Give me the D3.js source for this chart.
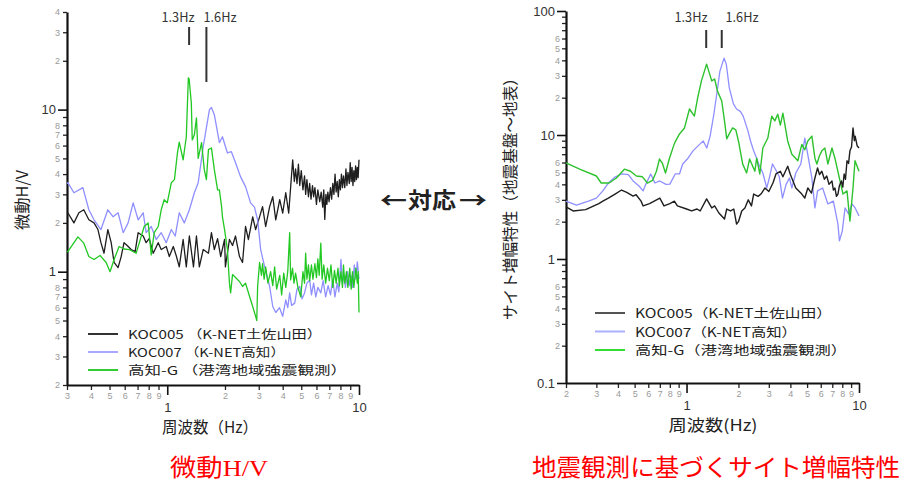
<!DOCTYPE html>
<html>
<head>
<meta charset="utf-8">
<script src="https://cdn.jsdelivr.net/npm/d3@7"></script>
<style>body{margin:0;background:#fff}</style>
</head>
<body>
<script>
// ---- data: microtremor H/V (left) [frequency Hz, ratio]
const hvKOC005 = [[0.3,2.3],[0.303,2.31],[0.326,2.0],[0.346,2.31],[0.367,2.41],[0.39,2.09],[0.415,2.0],[0.435,1.82],[0.451,1.51],[0.468,1.3],[0.49,1.82],[0.51,1.51],[0.528,1.14],[0.554,1.06],[0.575,1.24],[0.595,1.51],[0.618,1.45],[0.648,1.37],[0.68,1.33],[0.705,1.74],[0.749,1.66],[0.776,1.51],[0.805,1.6],[0.845,1.3],[0.897,1.51],[0.93,1.37],[0.988,1.43],[1.025,1.24],[1.075,1.43],[1.115,1.25],[1.155,1.07],[1.21,1.58],[1.257,1.07],[1.304,1.66],[1.37,1.07],[1.42,1.66],[1.47,1.07],[1.54,1.37],[1.64,1.3],[1.7,1.74],[1.76,1.37],[1.83,1.6],[1.9,1.24],[1.99,1.58],[2.01,1.07],[2.11,1.58],[2.19,1.45],[2.27,1.66],[2.38,1.24],[2.47,1.14],[2.56,1.9],[2.65,1.58],[2.79,2.18],[2.89,1.82],[3.03,2.18],[3.14,2.52],[3.26,1.9],[3.42,2.52],[3.55,2.9],[3.68,2.09],[3.86,2.78],[4.0,2.3],[4.15,3.07],[4.3,2.3],[4.51,4.9],[4.6,3.6],[4.67,4.3],[4.75,3.5],[4.83,4.6],[4.91,3.4],[5.0,4.2],[5.1,3.2],[5.2,3.9],[5.27,3.0],[5.35,3.7],[5.45,2.9],[5.53,3.5],[5.62,2.8],[5.72,3.4],[5.8,2.9],[5.89,3.3],[6.0,2.6],[6.1,3.2],[6.24,2.7],[6.35,3.1],[6.47,2.5],[6.55,3.2],[6.63,2.1],[6.72,3.0],[6.8,2.6],[6.88,3.1],[6.98,2.7],[7.1,3.3],[7.2,2.8],[7.3,3.5],[7.4,3.0],[7.5,4.0],[7.6,3.1],[7.7,3.6],[7.8,2.9],[7.9,3.7],[8.0,3.2],[8.1,4.0],[8.2,3.3],[8.3,3.9],[8.43,3.3],[8.55,4.3],[8.65,3.4],[8.76,4.1],[8.9,3.5],[9.0,4.7],[9.1,3.6],[9.2,4.4],[9.3,3.4],[9.4,4.2],[9.5,3.6],[9.6,4.5],[9.7,3.7],[9.8,4.4],[9.9,3.8],[10,4.9]];
const hvKOC007 = [[0.3,3.5],[0.303,3.54],[0.326,3.07],[0.363,3.3],[0.39,2.41],[0.415,2.09],[0.451,1.82],[0.49,2.41],[0.522,2.18],[0.554,2.31],[0.589,1.74],[0.625,2.0],[0.664,2.66],[0.705,2.09],[0.749,2.31],[0.776,1.74],[0.825,1.9],[0.876,1.58],[0.93,1.74],[0.988,1.51],[1.05,1.82],[1.1,1.66],[1.155,2.31],[1.227,2.0],[1.304,2.41],[1.385,3.07],[1.45,3.54],[1.54,5.9],[1.6,7.74],[1.66,10.0],[1.7,10.3],[1.76,9.3],[1.87,6.25],[1.94,6.8],[2.06,5.4],[2.16,5.5],[2.27,4.7],[2.41,3.86],[2.56,3.35],[2.72,2.66],[2.85,2.5],[2.96,2.09],[3.07,1.37],[3.22,1.07],[3.42,0.81],[3.55,0.61],[3.68,0.56],[3.85,0.6],[4.0,0.53],[4.1,0.62],[4.15,0.67],[4.25,0.6],[4.35,0.74],[4.45,0.62],[4.62,0.64],[4.75,0.78],[4.91,0.81],[5.05,0.68],[5.2,0.74],[5.35,0.85],[5.53,0.89],[5.65,0.72],[5.8,0.85],[5.95,0.7],[6.1,0.8],[6.32,0.74],[6.5,0.88],[6.7,0.7],[6.9,0.82],[7.1,0.72],[7.3,0.9],[7.49,0.7],[7.7,0.85],[7.85,0.75],[8.05,1.19],[8.2,0.85],[8.35,0.95],[8.5,0.8],[8.7,1.0],[8.9,0.82],[9.08,0.95],[9.25,0.8],[9.45,1.1],[9.63,0.9],[9.8,1.15],[10,0.9]];
const hvKochiG = [[0.3,1.33],[0.303,1.33],[0.342,1.64],[0.367,1.5],[0.39,1.24],[0.415,1.19],[0.446,1.26],[0.48,1.14],[0.503,1.0],[0.528,1.19],[0.561,1.43],[0.595,1.38],[0.632,1.37],[0.688,1.3],[0.714,1.5],[0.758,1.9],[0.795,2.0],[0.825,1.27],[0.855,1.74],[0.897,1.9],[0.93,2.41],[0.964,2.78],[1.0,2.66],[1.05,3.54],[1.09,3.7],[1.13,5.4],[1.155,6.3],[1.21,4.9],[1.257,6.8],[1.288,15.7],[1.3,15.5],[1.335,11.0],[1.35,6.5],[1.385,7.0],[1.42,8.9],[1.45,5.0],[1.51,6.25],[1.56,4.26],[1.6,3.7],[1.64,5.66],[1.7,5.8],[1.76,4.26],[1.83,3.2],[1.87,3.2],[1.92,2.52],[1.94,2.18],[1.99,1.82],[2.06,1.37],[2.11,0.85],[2.14,0.74],[2.19,0.96],[2.27,0.92],[2.38,0.87],[2.47,0.81],[2.56,0.85],[2.69,0.7],[2.79,0.61],[2.89,0.53],[2.93,0.5],[2.96,0.81],[3.03,1.14],[3.1,0.95],[3.14,1.12],[3.2,0.9],[3.26,1.07],[3.35,0.85],[3.46,1.0],[3.55,0.82],[3.63,1.07],[3.72,0.78],[3.86,0.95],[3.95,0.72],[4.05,0.98],[4.15,0.8],[4.25,1.0],[4.35,1.74],[4.4,0.89],[4.5,1.05],[4.58,0.85],[4.67,0.98],[4.8,0.8],[4.97,0.7],[5.1,1.0],[5.2,0.85],[5.27,1.3],[5.35,0.9],[5.45,1.1],[5.53,0.88],[5.65,1.1],[5.75,0.9],[5.89,1.12],[6.0,0.92],[6.1,1.2],[6.2,0.95],[6.32,1.5],[6.42,0.9],[6.55,1.1],[6.7,0.85],[6.85,1.05],[7.0,0.88],[7.14,1.1],[7.3,0.8],[7.45,1.02],[7.6,0.85],[7.77,1.05],[7.9,0.82],[8.05,1.0],[8.2,0.8],[8.3,1.1],[8.43,0.85],[8.6,1.0],[8.75,0.8],[8.95,1.05],[9.1,0.78],[9.25,1.0],[9.4,0.8],[9.63,1.05],[9.8,0.85],[9.9,1.0],[10,0.56]];

// ---- data: site amplification from earthquake records (right)
const ampKOC005 = [[0.2,2.63],[0.22,2.44],[0.26,2.5],[0.29,2.68],[0.31,2.8],[0.327,2.93],[0.352,3.1],[0.385,3.34],[0.42,3.6],[0.45,3.45],[0.49,3.22],[0.51,3.3],[0.545,2.93],[0.56,2.68],[0.61,2.8],[0.7,3.1],[0.74,2.68],[0.8,2.8],[0.85,2.93],[0.885,2.68],[1.0,2.53],[1.07,2.44],[1.15,2.53],[1.2,2.44],[1.307,3.05],[1.4,2.58],[1.455,2.68],[1.54,2.35],[1.66,2.1],[1.71,2.53],[1.8,2.44],[1.88,2.53],[1.95,1.91],[2.0,2.0],[2.09,2.44],[2.18,2.58],[2.28,3.0],[2.38,2.68],[2.45,3.34],[2.6,3.2],[2.7,3.34],[2.85,3.74],[3.0,3.5],[3.17,4.1],[3.3,4.85],[3.5,5.1],[3.62,4.6],[3.86,5.6],[4.0,4.8],[4.3,3.74],[4.66,3.34],[4.85,3.1],[5.05,3.74],[5.3,3.4],[5.55,4.5],[5.75,5.42],[5.9,4.8],[6.09,5.1],[6.3,4.4],[6.5,4.67],[6.7,4.0],[6.97,4.26],[7.1,3.6],[7.25,3.74],[7.4,3.2],[7.55,3.34],[7.7,3.9],[7.9,4.26],[8.05,3.8],[8.2,4.85],[8.35,4.4],[8.52,6.2],[8.7,5.9],[8.86,7.45],[9.05,8.0],[9.23,11.4],[9.4,9.0],[9.5,9.8],[9.75,8.2],[10,7.85]];
const ampKOC007 = [[0.2,2.93],[0.23,2.72],[0.27,2.93],[0.3,3.1],[0.327,3.54],[0.352,4.1],[0.385,4.58],[0.42,4.85],[0.46,4.8],[0.49,4.26],[0.53,3.88],[0.56,3.54],[0.58,4.0],[0.62,4.85],[0.655,4.1],[0.7,4.26],[0.76,4.0],[0.8,4.02],[0.86,4.85],[0.91,4.85],[0.95,5.84],[1.02,6.5],[1.09,7.45],[1.19,8.4],[1.25,8.95],[1.31,7.85],[1.37,9.8],[1.44,14.7],[1.5,21.8],[1.56,32.6],[1.65,41.7],[1.7,37.3],[1.77,24.0],[1.87,17.8],[1.95,16.2],[2.05,15.5],[2.13,14.2],[2.27,10.8],[2.35,8.95],[2.45,7.45],[2.55,6.5],[2.62,5.84],[2.77,4.94],[2.92,3.74],[3.03,4.6],[3.15,5.84],[3.3,5.2],[3.45,4.6],[3.6,3.1],[3.78,4.0],[3.95,4.5],[4.08,3.74],[4.3,4.94],[4.6,5.84],[4.85,9.45],[5.05,6.9],[5.33,4.5],[5.55,2.58],[5.75,3.54],[6.15,3.74],[6.6,2.78],[7.1,2.93],[7.55,1.91],[7.7,1.4],[8.0,1.68],[8.3,2.58],[8.7,2.31],[9.1,2.78],[9.5,2.58],[10,2.22]];
const ampKochiG = [[0.2,5.95],[0.24,5.3],[0.3,4.67],[0.32,4.1],[0.356,4.1],[0.392,4.5],[0.436,5.3],[0.473,5.1],[0.512,4.67],[0.555,4.6],[0.593,4.1],[0.635,4.3],[0.669,5.1],[0.697,6.4],[0.725,5.9],[0.755,4.94],[0.796,6.5],[0.852,8.6],[0.91,10.2],[0.973,11.4],[1.04,16.2],[1.11,14.2],[1.16,19.9],[1.22,27.3],[1.307,37.3],[1.4,27.3],[1.455,28.3],[1.51,22.7],[1.6,18.8],[1.66,13.0],[1.71,9.3],[1.78,10.4],[1.85,11.4],[1.93,11.0],[2.0,8.95],[2.115,5.85],[2.23,4.94],[2.32,6.4],[2.49,5.1],[2.55,6.5],[2.66,4.85],[2.77,7.85],[2.96,9.45],[3.12,14.2],[3.25,13.0],[3.38,14.7],[3.5,12.0],[3.62,15.0],[3.86,8.95],[4.08,7.0],[4.42,6.2],[4.66,8.4],[4.85,7.6],[5.05,8.95],[5.33,9.8],[5.55,6.5],[5.7,5.84],[5.9,6.8],[6.09,7.45],[6.34,7.85],[6.6,5.84],[6.97,7.85],[7.25,6.5],[7.76,4.26],[8.08,3.34],[8.52,3.54],[8.86,2.02],[9.23,3.74],[9.48,6.2],[10,5.1]];

// ---- ticks
const hvXMajor = [1, 10];
const hvXMinor = [0.3,0.4,0.5,0.6,0.7,0.8,0.9,2,3,4,5,6,7,8,9];
const hvYMajor = [1, 10];
const hvYMinor = [0.2,0.3,0.4,0.5,0.6,0.7,0.8,0.9,2,3,4,5,6,7,8,9,20,30,40];
const ampXMajor = [1, 10];
const ampXMinor = [0.2,0.3,0.4,0.5,0.6,0.7,0.8,0.9,2,3,4,5,6,7,8,9];
const ampYMajor = [0.1, 1, 10, 100];
const ampYMinor = [0.2,0.3,0.4,0.5,0.6,0.7,0.8,0.9,2,3,4,5,6,7,8,9,20,30,40,50,60,70,80,90];
const peaks = [1.3, 1.6];

const hvLegend = ["KOC005 （K-NET土佐山田）", "KOC007 （K-NET高知）", "高知-G （港湾地域強震観測）"];
const ampLegend = ["KOC005（K-NET土佐山田）", "KOC007（K-NET高知）", "高知-G（港湾地域強震観測）"];

const width = 903, height = 486;
const jp = "'Noto Sans CJK JP', sans-serif";

const svg = d3.select("body").append("svg")
    .attr("width", width)
    .attr("height", height)
    .style("font-family", "'Liberation Sans', Arial, sans-serif");

const digit = d => String(Math.round(d / Math.pow(10, Math.floor(Math.log10(d) + 1e-9))));

function panel(o) {
  const x = d3.scaleLog().domain(o.xDomain).range(o.xRange);
  const y = d3.scaleLog().domain(o.yDomain).range(o.yRange);
  const g = svg.append("g");

  // minor ticks
  const ym = g.append("g").attr("transform", `translate(${o.xRange[0]},0)`)
      .call(d3.axisLeft(y).tickValues(o.yMinor).tickSize(4).tickPadding(o.yMinorPad)
        .tickFormat(d => o.skipY.includes(+digit(d)) ? "" : digit(d)));
  const xm = g.append("g").attr("transform", `translate(0,${o.yRange[0]})`)
      .call(d3.axisBottom(x).tickValues(o.xMinor).tickSize(5).tickPadding(3).tickFormat(digit));
  [ym, xm].forEach(a => {
    a.select(".domain").remove();
    a.selectAll("line").attr("stroke", "#222").attr("stroke-width", 1.3);
    a.selectAll("text").attr("fill", "#9a9a9a").style("font-size", "9px");
  });

  // major ticks + axis lines
  const yM = g.append("g").attr("transform", `translate(${o.xRange[0]},0)`)
      .call(d3.axisLeft(y).tickValues(o.yMajor).tickSize(9).tickSizeOuter(0).tickPadding(2)
        .tickFormat(d => String(d)));
  const xM = g.append("g").attr("transform", `translate(0,${o.yRange[0]})`)
      .call(d3.axisBottom(x).tickValues(o.xMajor).tickSize(10).tickSizeOuter(0).tickPadding(8)
        .tickFormat(d => String(d)));
  [yM, xM].forEach(a => {
    a.select(".domain").attr("stroke", "#111").attr("stroke-width", 2.2);
    a.selectAll("line").attr("stroke", "#111").attr("stroke-width", 1.6);
    a.selectAll("text").attr("fill", "#333").style("font-size", "13px");
  });

  // series
  const line = d3.line().x(d => x(d[0])).y(d => y(d[1]));
  o.series.forEach(s => {
    g.append("path").datum(s.data)
      .attr("fill", "none")
      .attr("stroke", s.color)
      .attr("stroke-width", s.w)
      .attr("stroke-linejoin", "round")
      .attr("d", line);
  });

  // peak markers
  peaks.forEach((p, i) => {
    g.append("line")
      .attr("x1", x(p)).attr("x2", x(p))
      .attr("y1", o.markTop).attr("y2", o.markBottom[i])
      .attr("stroke", "#333").attr("stroke-width", 2);
    g.append("text")
      .attr("x", o.markLabelX[i]).attr("y", 22)
      .attr("text-anchor", "middle")
      .attr("textLength", 33).attr("lengthAdjust", "spacingAndGlyphs")
      .style("font-size", "13px").attr("fill", "#333")
      .style("font-family", jp)
      .text(p.toFixed(1) + "Hz");
  });

  // legend
  o.legend.forEach((t, i) => {
    const ly = o.legendY + i * o.legendStep;
    g.append("line")
      .attr("x1", o.legendX).attr("x2", o.legendX + 30)
      .attr("y1", ly).attr("y2", ly)
      .attr("stroke", o.legendColors[i]).attr("stroke-width", 2);
    g.append("text")
      .attr("x", o.legendX + 40).attr("y", ly + 5)
      .attr("textLength", o.legendLen[i]).attr("lengthAdjust", "spacingAndGlyphs")
      .style("font-family", jp).style("font-size", o.legendFont)
      .attr("fill", "#222")
      .text(t);
  });

  // axis titles
  g.append("text")
    .attr("x", o.xTitleX).attr("y", o.xTitleY)
    .attr("text-anchor", "middle")
    .attr("textLength", o.xTitleLen).attr("lengthAdjust", "spacingAndGlyphs")
    .style("font-family", jp).style("font-size", "16px").attr("fill", "#222")
    .text(o.xTitle);
  g.append("text")
    .attr("transform", `translate(${o.yTitleX},${o.yTitleY}) rotate(-90)`)
    .attr("text-anchor", "middle")
    .attr("textLength", o.yTitleLen).attr("lengthAdjust", "spacingAndGlyphs")
    .style("font-family", jp).style("font-size", "16px").attr("fill", "#222")
    .text(o.yTitle);
}

panel({
  xDomain: [0.3, 10], xRange: [67, 359],
  yDomain: [0.2, 40], yRange: [385, 12],
  xMajor: hvXMajor, xMinor: hvXMinor, yMajor: hvYMajor, yMinor: hvYMinor,
  skipY: [9], yMinorPad: 3,
  series: [
    {data: hvKOC005, color: "#1e1e1e", w: 1.3},
    {data: hvKOC007, color: "#8f8fff", w: 1.3},
    {data: hvKochiG, color: "#22c822", w: 1.3}
  ],
  markTop: 27, markBottom: [45, 82], markLabelX: [178, 220],
  legend: hvLegend, legendX: 88, legendY: 334, legendStep: 18, legendFont: "12px",
  legendLen: [194, 157, 219],
  legendColors: ["#333", "#a8a8ff", "#33cc33"],
  xTitle: "周波数（Hz）", xTitleX: 210, xTitleY: 433, xTitleLen: 96,
  yTitle: "微動H/V", yTitleX: 28, yTitleY: 200, yTitleLen: 60
});

panel({
  xDomain: [0.2, 10], xRange: [566, 859],
  yDomain: [0.1, 100], yRange: [383, 11],
  xMajor: ampXMajor, xMinor: ampXMinor, yMajor: ampYMajor, yMinor: ampYMinor,
  skipY: [7, 8, 9], yMinorPad: 2,
  series: [
    {data: ampKOC007, color: "#8f8fff", w: 1.3},
    {data: ampKochiG, color: "#2ec22e", w: 1.4},
    {data: ampKOC005, color: "#1e1e1e", w: 1.4}
  ],
  markTop: 30, markBottom: [48, 48], markLabelX: [691, 742],
  legend: ampLegend, legendX: 595, legendY: 313, legendStep: 18.5, legendFont: "12.5px",
  legendLen: [197, 162, 212],
  legendColors: ["#555", "#aab0ff", "#33dd33"],
  xTitle: "周波数(Hz)", xTitleX: 713, xTitleY: 431, xTitleLen: 89,
  yTitle: "サイト増幅特性（地震基盤～地表）", yTitleX: 516, yTitleY: 195, yTitleLen: 250
});

// correspondence arrow between panels
const mid = svg.append("g").style("font-family", jp).attr("fill", "#222");
[["←", 380, 27], ["対応", 408, 48], ["→", 459, 28]].forEach(([t, x0, w]) => {
  mid.append("text").attr("x", x0).attr("y", 208)
    .attr("textLength", w).attr("lengthAdjust", "spacingAndGlyphs")
    .style("font-size", "22px").style("font-weight", "bold")
    .text(t);
});

// panel captions
svg.append("text").attr("x", 170).attr("y", 476)
  .attr("textLength", 98).attr("lengthAdjust", "spacingAndGlyphs")
  .style("font-family", "'Liberation Serif', 'Noto Sans CJK JP', serif")
  .style("font-size", "24px").attr("fill", "#ff0000")
  .text("微動H/V");
svg.append("text").attr("x", 532).attr("y", 476)
  .attr("textLength", 368).attr("lengthAdjust", "spacingAndGlyphs")
  .style("font-family", jp)
  .style("font-size", "24px").attr("fill", "#ff0000")
  .text("地震観測に基づくサイト増幅特性");
</script>
</body>
</html>
